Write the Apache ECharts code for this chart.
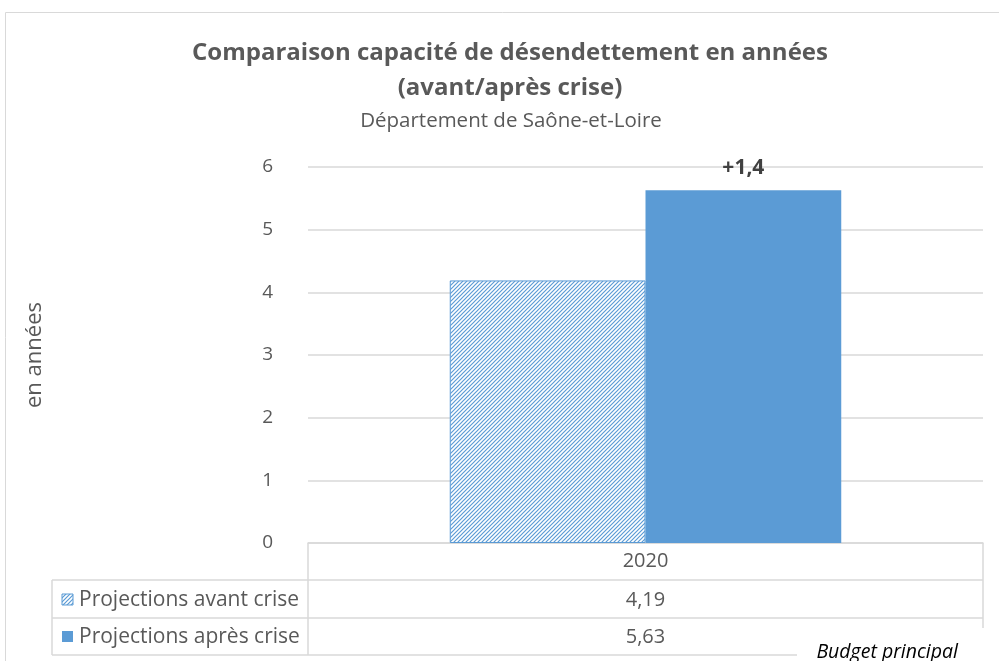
<!DOCTYPE html>
<html><head><meta charset="utf-8">
<script src="https://cdn.jsdelivr.net/npm/echarts@6/dist/echarts.min.js"></script>
<style>html,body{margin:0;padding:0;background:#fff}#c{width:999px;height:661px}</style>
</head><body><div id="c"></div>
<script>
const categories = ['2020'];
const seriesNames = ['Projections avant crise', 'Projections après crise'];
const avantCrise = [4.19];
const apresCrise = [5.63];
const diffLabel = '+1,4';
const yTicks = [0, 1, 2, 3, 4, 5, 6];
const titleLines = ['Comparaison capacité de désendettement en années', '(avant/après crise)'];
const subtitle = 'Département de Saône-et-Loire';
const yName = 'en années';
const footnote = 'Budget principal';

const BLUE = '#5B9BD5';
const TXT = '#595959';
const FONT = '"Open Sans", "Noto Sans", sans-serif';

function hatch() {
  const c = document.createElement('canvas');
  c.width = 4; c.height = 4;
  const g = c.getContext('2d');
  g.fillStyle = '#fff'; g.fillRect(0, 0, 4, 4);
  g.strokeStyle = BLUE; g.lineWidth = 1.2;
  g.beginPath();
  g.moveTo(0, 4); g.lineTo(4, 0);
  g.moveTo(-1, 1); g.lineTo(1, -1);
  g.moveTo(3, 5); g.lineTo(5, 3);
  g.stroke();
  return c;
}
const pat = { image: hatch(), repeat: 'repeat' };

const fmt = v => String(v).replace('.', ',');
const chart = echarts.init(document.getElementById('c'), null, { renderer: 'canvas' });

const gridL = 308, gridR = 983, gridB = 543;
const LINE = '#d9d9d9';

const graphics = [
  { type: 'rect', shape: { x: 5.5, y: 12.5, width: 1000, height: 660 }, style: { fill: 'none', stroke: LINE, lineWidth: 1 }, silent: true },
  { type: 'text', x: 510, y: 53, style: { text: titleLines[0], font: 'bold 24px ' + FONT, fill: TXT, align: 'center', verticalAlign: 'middle' } },
  { type: 'text', x: 510, y: 88, style: { text: titleLines[1], font: 'bold 24px ' + FONT, fill: TXT, align: 'center', verticalAlign: 'middle' } },
  { type: 'text', x: 511, y: 121, style: { text: subtitle, font: '20.5px ' + FONT, fill: TXT, align: 'center', verticalAlign: 'middle' } },
  // table lines
  { type: 'line', shape: { x1: gridL, y1: gridB, x2: gridL, y2: 655 }, style: { stroke: LINE, lineWidth: 1.5 } },
  { type: 'line', shape: { x1: gridR, y1: gridB, x2: gridR, y2: 628 }, style: { stroke: LINE, lineWidth: 1.5 } },
  { type: 'line', shape: { x1: 52, y1: 580, x2: 52, y2: 655 }, style: { stroke: LINE, lineWidth: 1.5 } },
  { type: 'line', shape: { x1: 52, y1: 580, x2: gridR, y2: 580 }, style: { stroke: LINE, lineWidth: 1.5 } },
  { type: 'line', shape: { x1: 52, y1: 618, x2: gridR, y2: 618 }, style: { stroke: LINE, lineWidth: 1.5 } },
  { type: 'line', shape: { x1: 52, y1: 655, x2: 797, y2: 655 }, style: { stroke: LINE, lineWidth: 1.5 } },
  // legend keys
  { type: 'rect', shape: { x: 62, y: 594, width: 11, height: 11 }, style: { fill: pat, stroke: BLUE, lineWidth: 1 } },
  { type: 'text', x: 79, y: 600, style: { text: seriesNames[0], font: '21px ' + FONT, fill: TXT, verticalAlign: 'middle' } },
  { type: 'rect', shape: { x: 62, y: 631, width: 11, height: 11 }, style: { fill: BLUE } },
  { type: 'text', x: 79, y: 637, style: { text: seriesNames[1], font: '21px ' + FONT, fill: TXT, verticalAlign: 'middle' } },
  // values
  { type: 'text', x: (gridL + gridR) / 2, y: 600, style: { text: fmt(avantCrise[0]), font: '20px ' + FONT, fill: TXT, align: 'center', verticalAlign: 'middle' } },
  { type: 'text', x: (gridL + gridR) / 2, y: 637, style: { text: fmt(apresCrise[0]), font: '20px ' + FONT, fill: TXT, align: 'center', verticalAlign: 'middle' } },
  { type: 'text', x: 958, y: 652, style: { text: footnote, font: 'italic 19.5px ' + FONT, fill: '#000', align: 'right', verticalAlign: 'middle' } }
];

chart.setOption({
  animation: false,
  textStyle: { fontFamily: FONT },
  grid: { left: gridL, right: 999 - gridR, top: 167, bottom: 661 - gridB, containLabel: false },
  xAxis: {
    type: 'category', data: categories,
    axisLine: { show: true, lineStyle: { color: LINE, width: 1.5 } },
    axisTick: { show: false },
    axisLabel: { color: TXT, fontSize: 20, margin: 8 }
  },
  yAxis: {
    type: 'value', min: yTicks[0], max: yTicks[yTicks.length - 1], interval: 1,
    name: yName, nameLocation: 'middle', nameGap: 262, nameRotate: 90,
    nameTextStyle: { color: TXT, fontSize: 22 },
    axisLine: { show: false }, axisTick: { show: false },
    axisLabel: { color: TXT, fontSize: 19, margin: 35 },
    splitLine: { lineStyle: { color: LINE, width: 1.5 } }
  },
  series: [
    { type: 'bar', name: seriesNames[0], data: avantCrise, barGap: '0%', barCategoryGap: '42%',
      itemStyle: { color: pat, borderColor: BLUE, borderWidth: 1 } },
    { type: 'bar', name: seriesNames[1], data: apresCrise, barGap: '0%', barCategoryGap: '42%',
      itemStyle: { color: BLUE },
      label: { show: true, position: 'top', distance: 12, formatter: () => diffLabel, color: '#404040', fontWeight: 'bold', fontSize: 21 } }
  ],
  graphic: graphics
});
</script></body></html>
